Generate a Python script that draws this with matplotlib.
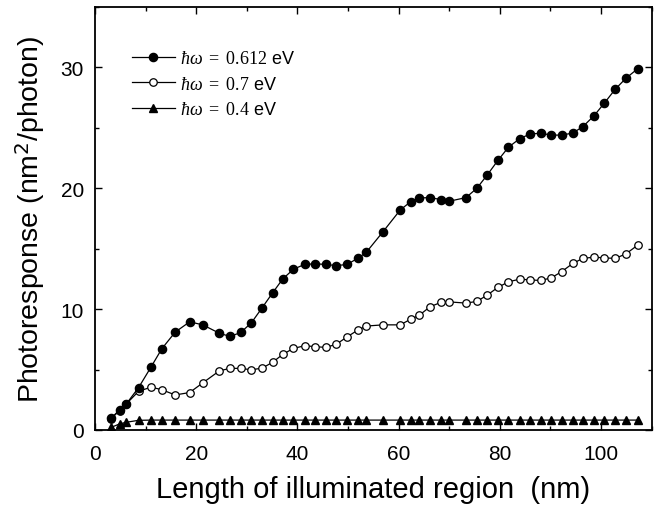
import matplotlib
matplotlib.use("Agg")
import matplotlib.pyplot as plt
from matplotlib.ticker import MultipleLocator

plt.rcParams['font.family'] = ['Liberation Sans', 'DejaVu Sans']
plt.rcParams['mathtext.fontset'] = 'custom'
plt.rcParams['mathtext.rm'] = 'Liberation Serif'
plt.rcParams['mathtext.it'] = 'Liberation Serif:italic'
plt.rcParams['mathtext.bf'] = 'Liberation Serif:bold'

length_nm = [3.2, 4.85, 6.17, 8.6, 11.1, 13.2, 15.85, 18.7, 21.3, 24.6, 26.7, 28.8,
             30.9, 33.0, 35.1, 37.1, 39.2, 41.4, 43.5, 45.6, 47.7, 49.8, 51.9, 53.6,
             56.9, 60.3, 62.4, 64.1, 66.2, 68.3, 70.0, 73.3, 75.45, 77.5, 79.6, 81.7,
             83.9, 86.0, 88.1, 90.2, 92.2, 94.4, 96.4, 98.6, 100.65, 102.8, 104.9, 107.25]

resp_0612 = [0.97, 1.68, 2.15, 3.5, 5.23, 6.72, 8.1, 8.95, 8.7, 8.0, 7.74, 8.07,
             8.87, 10.1, 11.35, 12.5, 13.3, 13.7, 13.75, 13.7, 13.6, 13.7, 14.2, 14.7,
             16.4, 18.2, 18.9, 19.2, 19.23, 19.07, 18.93, 19.23, 20.0, 21.1, 22.3, 23.4,
             24.1, 24.5, 24.55, 24.4, 24.4, 24.57, 25.1, 26.0, 27.05, 28.2, 29.1, 29.9]

resp_07 = [0.95, 1.6, 2.15, 3.2, 3.55, 3.33, 2.9, 3.1, 3.9, 4.9, 5.1, 5.1,
           4.98, 5.12, 5.6, 6.26, 6.75, 6.97, 6.9, 6.83, 7.1, 7.7, 8.26, 8.6,
           8.7, 8.7, 9.17, 9.5, 10.2, 10.55, 10.6, 10.5, 10.64, 11.16, 11.8, 12.26,
           12.48, 12.42, 12.37, 12.6, 13.1, 13.78, 14.2, 14.3, 14.24, 14.2, 14.57, 15.3]

resp_04 = [0.22, 0.5, 0.64, 0.8, 0.82, 0.82, 0.82, 0.82, 0.82, 0.82, 0.82, 0.82,
           0.82, 0.82, 0.82, 0.82, 0.82, 0.82, 0.82, 0.82, 0.82, 0.82, 0.82, 0.82,
           0.82, 0.82, 0.82, 0.82, 0.82, 0.82, 0.82, 0.82, 0.82, 0.82, 0.82, 0.82,
           0.82, 0.82, 0.82, 0.82, 0.82, 0.82, 0.82, 0.82, 0.82, 0.82, 0.82, 0.82]

labels = [r'$\hbar\omega\ =\ 0.612$ eV', r'$\hbar\omega\ =\ 0.7$ eV', r'$\hbar\omega\ =\ 0.4$ eV']

fig = plt.figure(figsize=(6.64, 5.10), dpi=100)
ax = fig.add_axes([95/664, 1 - 431/510, (651.7 - 95) / 664, (431 - 8) / 510])

ax.plot(length_nm, resp_04, '-', color='black', lw=0.9, marker='^', ms=6,
        mfc='black', mec='black', label=labels[2], zorder=2)
ax.plot(length_nm, resp_07, '-', color='black', lw=0.9, marker='o', ms=5.4,
        mfc='white', mec='black', mew=0.9, label=labels[1], zorder=3)
ax.plot(length_nm, resp_0612, '-', color='black', lw=0.9, marker='o', ms=5.9,
        mfc='black', mec='black', label=labels[0], zorder=4)

ax.set_xlim(0, 110)
ax.set_ylim(0, 35)
ax.xaxis.set_major_locator(MultipleLocator(20))
ax.xaxis.set_minor_locator(MultipleLocator(10))
ax.yaxis.set_major_locator(MultipleLocator(10))
ax.yaxis.set_minor_locator(MultipleLocator(5))
ax.tick_params(which='both', direction='in', top=True, right=True, width=1.0,
               labelsize=15, colors='black')
ax.tick_params(which='major', length=5)
ax.tick_params(axis='x', which='major', pad=10)
ax.tick_params(axis='y', which='major', pad=8)
ax.tick_params(which='minor', length=3)
for s in ax.spines.values():
    s.set_linewidth(1.3)

ax.set_xlabel('Length of illuminated region  (nm)', fontsize=21, labelpad=9)
ax.set_ylabel('Photoresponse (nm$^{\\mathsf{2}}$/photon)', fontsize=20.5, labelpad=10)

handles, labs = ax.get_legend_handles_labels()
order = [2, 1, 0]
ax.legend([handles[i] for i in order], [labs[i] for i in order],
          loc='upper left', bbox_to_anchor=(0.066, 0.898), frameon=False,
          borderpad=0, borderaxespad=0, handlelength=2.4, handletextpad=0.3,
          labelspacing=0.48, fontsize=13)

fig.savefig('out.png', dpi=100)
